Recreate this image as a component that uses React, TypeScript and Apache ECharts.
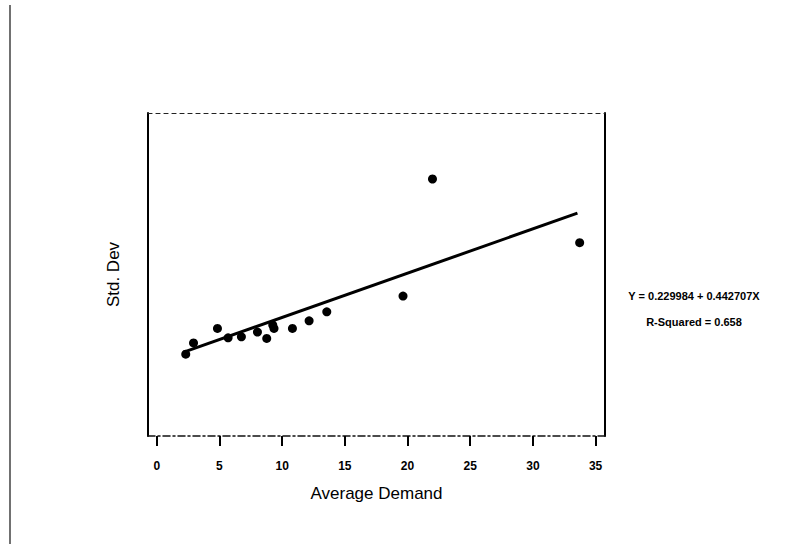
import React, { useEffect, useRef } from "react";
import * as echarts from "echarts";

// Observed data: average demand (x) vs. standard deviation (y)
const avgDemand = [2.31, 2.93, 4.84, 5.69, 6.75, 8.03, 8.77, 9.25, 9.35, 10.82, 12.15, 13.56, 19.64, 21.99, 33.73];
const stdDev = [0.98, 2.11, 3.56, 2.62, 2.72, 3.19, 2.56, 3.9, 3.56, 3.56, 4.32, 5.22, 6.79, 18.5, 12.13];

// Fitted regression line end points
const fitX = [2.15, 33.55];
const fitY = [1.18, 15.08];

const xTicks = [0, 5, 10, 15, 20, 25, 30, 35];
const equationText = "Y = 0.229984 + 0.442707X";
const rSquaredText = "R-Squared = 0.658";

export default function App() {
  const ref = useRef<HTMLDivElement>(null);
  useEffect(() => {
    if (!ref.current) return;
    const chart = echarts.init(ref.current, undefined, { renderer: "svg" });
    const points = avgDemand.map((x, i) => [x, stdDev[i]]);
    const fit = fitX.map((x, i) => [x, fitY[i]]);
    const font = "'Liberation Sans', Arial, sans-serif";
    chart.setOption({
      animation: false,
      backgroundColor: "#fff",
      grid: { left: 148, right: 184, top: 113, bottom: 108, containLabel: false },
      xAxis: [
        {
          type: "value",
          min: -0.7,
          max: 35.75,
          position: "bottom",
          splitLine: { show: false },
          axisLine: { show: true, onZero: false, lineStyle: { color: "#111", width: 1.5, type: [7, 3, 2, 3] } },
          axisTick: {
            show: true,
            inside: false,
            length: 10,
            customValues: xTicks,
            lineStyle: { color: "#000", width: 2 },
          },
          axisLabel: {
            customValues: xTicks,
            margin: 24,
            color: "#000",
            fontSize: 12,
            fontWeight: "bold",
            fontFamily: font,
          },
          name: "Average Demand",
          nameLocation: "middle",
          nameGap: 49,
          nameTextStyle: { color: "#000", fontSize: 17, fontFamily: font },
        },
        {
          type: "value",
          min: -0.7,
          max: 35.75,
          position: "top",
          splitLine: { show: false },
          axisLine: { show: true, onZero: false, lineStyle: { color: "#222", width: 1.2, type: [4, 4] } },
          axisTick: { show: false },
          axisLabel: { show: false },
        },
      ],
      yAxis: [
        {
          type: "value",
          min: -7.2,
          max: 25.1,
          position: "left",
          splitLine: { show: false },
          axisLine: { show: true, onZero: false, lineStyle: { color: "#000", width: 2 } },
          axisTick: { show: false },
          axisLabel: { show: false },
          name: "Std. Dev",
          nameLocation: "middle",
          nameGap: 26,
          nameRotate: 90,
          nameTextStyle: { color: "#000", fontSize: 17, fontFamily: font },
        },
        {
          type: "value",
          min: -7.2,
          max: 25.1,
          position: "right",
          splitLine: { show: false },
          axisLine: { show: true, onZero: false, lineStyle: { color: "#000", width: 2 } },
          axisTick: { show: false },
          axisLabel: { show: false },
        },
      ],
      series: [
        {
          type: "line",
          data: fit,
          xAxisIndex: 0,
          yAxisIndex: 0,
          showSymbol: false,
          symbol: "none",
          lineStyle: { color: "#000", width: 3 },
          silent: true,
        },
        {
          type: "scatter",
          data: points,
          xAxisIndex: 0,
          yAxisIndex: 0,
          symbol: "circle",
          symbolSize: 9,
          itemStyle: { color: "#000", opacity: 1 },
        },
      ],
      graphic: [
        {
          type: "line",
          shape: { x1: 10, y1: 5, x2: 10, y2: 544 },
          style: { stroke: "#111", lineWidth: 1.2 },
          silent: true,
        },
        {
          type: "text",
          x: 694,
          y: 296,
          style: {
            text: equationText,
            fill: "#000",
            font: `bold 11px ${font}`,
            textAlign: "center",
            textVerticalAlign: "middle",
          },
        },
        {
          type: "text",
          x: 694,
          y: 322,
          style: {
            text: rSquaredText,
            fill: "#000",
            font: `bold 11px ${font}`,
            textAlign: "center",
            textVerticalAlign: "middle",
          },
        },
      ],
    });
    return () => chart.dispose();
  }, []);
  return (
    <div
      ref={ref}
      style={{ position: "absolute", left: 0, top: 0, width: 789, height: 544 }}
    />
  );
}
